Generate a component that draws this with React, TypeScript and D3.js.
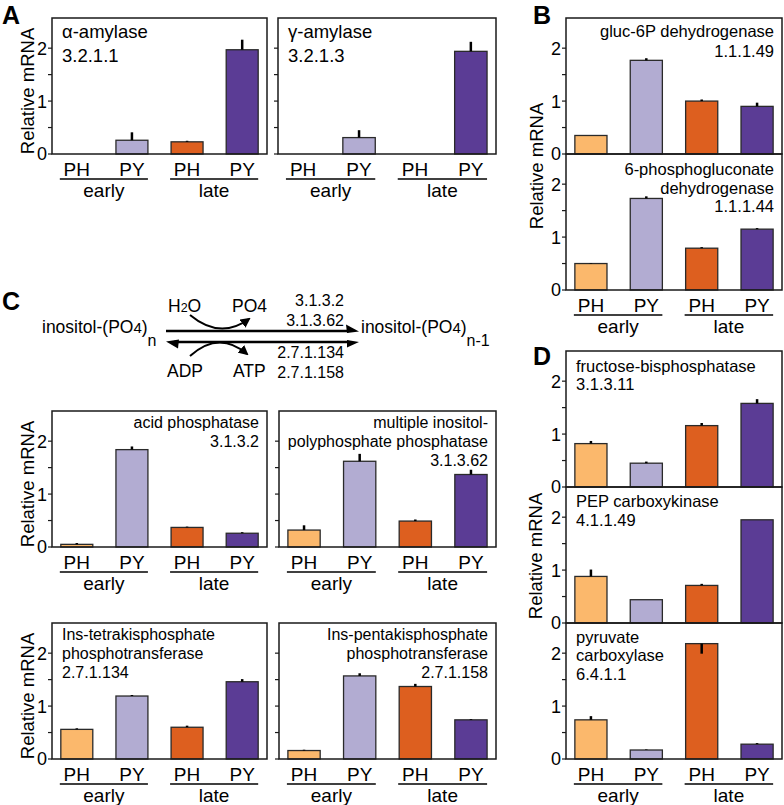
import React from 'react';
import * as d3 from 'd3';

// bar order in every plot: PH early, PY early, PH late, PY late
const conditions = ['PH', 'PY', 'PH', 'PY'];
const stages = ['early', 'late'];
const barColors = ['#fbb86c', '#b2acd2', '#dd5f1f', '#5b3c95'];

const yMax = 2.57;
const yTicks = [0, 0.5, 1, 1.5, 2];

// relative mRNA (0 = no bar drawn)
const alphaAmylase = [0, 0.26, 0.23, 1.97];
const alphaAmylaseErr = [0, 0.15, 0.02, 0.19];
const gammaAmylase = [0, 0.31, 0, 1.94];
const gammaAmylaseErr = [0, 0.14, 0, 0.18];

const g6pDehydrogenase = [0.35, 1.77, 1.0, 0.9];
const g6pDehydrogenaseErr = [0, 0.04, 0.03, 0.07];
const pgDehydrogenase = [0.5, 1.73, 0.79, 1.15];
const pgDehydrogenaseErr = [0.01, 0.04, 0.02, 0.02];

const acidPhosphatase = [0.05, 1.84, 0.37, 0.26];
const acidPhosphataseErr = [0.025, 0.06, 0.015, 0.02];
const minpp = [0.32, 1.62, 0.49, 1.37];
const minppErr = [0.09, 0.14, 0.03, 0.09];
const tetrakisPT = [0.56, 1.19, 0.6, 1.46];
const tetrakisPTErr = [0.02, 0.02, 0.03, 0.05];
const pentakisPT = [0.16, 1.57, 1.37, 0.74];
const pentakisPTErr = [0.015, 0.05, 0.05, 0.015];

const fbpase = [0.82, 0.45, 1.16, 1.58];
const fbpaseErr = [0.05, 0.03, 0.05, 0.08];
const pepck = [0.88, 0.44, 0.71, 1.95];
const pepckErr = [0.13, 0, 0.03, 0];
const pyruvateCarb = [0.74, 0.17, 2.18, 0.28];
const pyruvateCarbErr = [0.07, 0.01, -0.19, 0.02]; // negative: drawn downward

const FONT = '"Liberation Sans", Arial, Helvetica, sans-serif';
const PLOT_H = 136;

const band = (w: number) =>
  d3.scaleBand<number>().domain(d3.range(4)).range([0, w]).paddingInner(0.42).paddingOuter(0.16);
const yScale = d3.scaleLinear().domain([0, yMax]).range([PLOT_H, 0]);

type PlotProps = {
  x: number;
  y: number;
  w: number;
  values: number[];
  errors: number[];
  title: string[];
  anchor: 'start' | 'end';
  fontSize: number;
  lineH: number;
  firstLine: number;
  tickLabels?: boolean;
};

function BarPlot({ x, y, w, values, errors, title, anchor, fontSize, lineH, firstLine, tickLabels = true }: PlotProps) {
  const xs = band(w);
  const bw = xs.bandwidth();
  const tx = anchor === 'start' ? 10 : w - 8;
  return (
    <g transform={`translate(${x},${y})`}>
      {values.map((v, i) =>
        v > 0 ? (
          <g key={i}>
            <rect
              x={xs(i)}
              y={yScale(v)}
              width={bw}
              height={yScale(0) - yScale(v)}
              fill={barColors[i]}
              stroke="#2a2a2a"
              strokeWidth={1.3}
            />
            {errors[i] !== 0 && (
              <line
                x1={xs(i)! + bw / 2}
                x2={xs(i)! + bw / 2}
                y1={yScale(v)}
                y2={yScale(v + errors[i])}
                stroke="#000"
                strokeWidth={2.5}
              />
            )}
          </g>
        ) : null
      )}
      <rect x={0} y={0} width={w} height={PLOT_H} fill="none" stroke="#1a1a1a" strokeWidth={1.5} />
      {yTicks.map((t) => (
        <g key={t} transform={`translate(0,${yScale(t)})`}>
          <line x1={-4} x2={0} stroke="#1a1a1a" strokeWidth={1.2} />
          {tickLabels && Number.isInteger(t) && (
            <text x={-5} dy="0.36em" textAnchor="end" fontSize={18}>
              {t}
            </text>
          )}
        </g>
      ))}
      <text fontSize={fontSize} textAnchor={anchor}>
        {title.map((s, i) => (
          <tspan key={i} x={tx} y={firstLine + i * lineH}>
            {s}
          </tspan>
        ))}
      </text>
    </g>
  );
}

function GroupAxis({ x, w, bottom }: { x: number; w: number; bottom: number }) {
  const xs = band(w);
  const bw = xs.bandwidth();
  return (
    <g transform={`translate(${x},${bottom})`}>
      {conditions.map((c, i) => (
        <text key={i} x={xs(i)! + bw / 2} y={22} textAnchor="middle" fontSize={19}>
          {c}
        </text>
      ))}
      {stages.map((s, g) => {
        const x1 = xs(2 * g)! - 1;
        const x2 = xs(2 * g + 1)! + bw;
        return (
          <g key={s}>
            <line x1={x1} x2={x2} y1={25} y2={25} stroke="#000" strokeWidth={1.6} />
            <text x={(x1 + x2) / 2} y={43} textAnchor="middle" fontSize={19}>
              {s}
            </text>
          </g>
        );
      })}
    </g>
  );
}

function YLabel({ x, y }: { x: number; y: number }) {
  return (
    <text transform={`translate(${x},${y}) rotate(-90)`} textAnchor="middle" fontSize={18.5}>
      Relative mRNA
    </text>
  );
}

function PanelLetter({ x, y, t }: { x: number; y: number; t: string }) {
  return (
    <text x={x} y={y} fontSize={25} fontWeight="bold">
      {t}
    </text>
  );
}

function Reaction() {
  return (
    <g fontSize={17.5}>
      <defs>
        <marker
          id="head"
          viewBox="0 0 10 10"
          refX={8}
          refY={5}
          markerUnits="userSpaceOnUse"
          markerWidth={10}
          markerHeight={10}
          orient="auto"
        >
          <path d="M0,0 L10,5 L0,10 z" fill="#000" />
        </marker>
      </defs>
      <text x={42} y={333}>
        inositol-(PO<tspan fontSize={15}>4</tspan>)
        <tspan fontSize={16} dy={13}>n</tspan>
      </text>
      <text x={361} y={333}>
        inositol-(PO<tspan fontSize={15}>4</tspan>)
        <tspan fontSize={16} dy={13}>n-1</tspan>
      </text>
      {/* forward and reverse arrows */}
      <line x1={166} x2={349} y1={331} y2={331} stroke="#000" strokeWidth={2.6} />
      <path d="M359,331.5 L346,324.5 L347,333 Z" fill="#000" />
      <line x1={174} x2={349} y1={342} y2={342} stroke="#000" strokeWidth={2.6} />
      <path d="M166,341.5 L179,339.5 L178,348.5 Z" fill="#000" />
      <path d="M359,342 L347,340 L347,347.5 Z" fill="#000" />
      {/* side substrates */}
      <path d="M190,315 Q220,340 249,319" fill="none" stroke="#000" strokeWidth={2} markerEnd="url(#head)" />
      <path d="M190,356 Q219,330 247,354" fill="none" stroke="#000" strokeWidth={2} markerEnd="url(#head)" />
      <text x={168} y={312}>
        H<tspan fontSize={12.5}>2</tspan>O
      </text>
      <text x={232} y={312}>PO4</text>
      <text x={167} y={377}>ADP</text>
      <text x={233} y={377}>ATP</text>
      <g fontSize={16} textAnchor="end">
        <text x={344} y={306}>3.1.3.2</text>
        <text x={344} y={326}>3.1.3.62</text>
        <text x={344} y={358}>2.7.1.134</text>
        <text x={344} y={378}>2.7.1.158</text>
      </g>
    </g>
  );
}

export default function App() {
  return (
    <svg
      width={784}
      height={805}
      style={{ position: 'absolute', left: 0, top: 0, background: '#fff' }}
      fontFamily={FONT}
    >
      {/* A */}
      <PanelLetter x={2} y={24} t="A" />
      <BarPlot x={52} y={18} w={215} values={alphaAmylase} errors={alphaAmylaseErr}
        title={['α-amylase', '3.2.1.1']} anchor="start" fontSize={18.5} lineH={24} firstLine={20} />
      <GroupAxis x={52} w={215} bottom={154} />
      <BarPlot x={278} y={18} w={218} values={gammaAmylase} errors={gammaAmylaseErr}
        title={['γ-amylase', '3.2.1.3']} anchor="start" fontSize={18.5} lineH={24} firstLine={20} tickLabels={false} />
      <GroupAxis x={278} w={218} bottom={154} />
      <YLabel x={34} y={91} />

      {/* B */}
      <PanelLetter x={533} y={24} t="B" />
      <BarPlot x={566} y={18} w={216} values={g6pDehydrogenase} errors={g6pDehydrogenaseErr}
        title={['gluc-6P dehydrogenase', '1.1.1.49']} anchor="end" fontSize={16.5} lineH={19.5} firstLine={19} />
      <BarPlot x={566} y={154} w={216} values={pgDehydrogenase} errors={pgDehydrogenaseErr}
        title={['6-phosphogluconate', 'dehydrogenase', '1.1.1.44']} anchor="end" fontSize={16.5} lineH={18.5} firstLine={21} />
      <GroupAxis x={566} w={216} bottom={290} />
      <YLabel x={543} y={166} />

      {/* C */}
      <PanelLetter x={2} y={310} t="C" />
      <Reaction />
      <BarPlot x={52} y={411} w={215} values={acidPhosphatase} errors={acidPhosphataseErr}
        title={['acid phosphatase', '3.1.3.2']} anchor="end" fontSize={16} lineH={19} firstLine={16.5} />
      <GroupAxis x={52} w={215} bottom={547} />
      <BarPlot x={279} y={411} w={217} values={minpp} errors={minppErr}
        title={['multiple inositol-', 'polyphosphate phosphatase', '3.1.3.62']} anchor="end" fontSize={16} lineH={19} firstLine={16.5} tickLabels={false} />
      <GroupAxis x={279} w={217} bottom={547} />
      <YLabel x={34} y={484} />

      <BarPlot x={52} y={623} w={215} values={tetrakisPT} errors={tetrakisPTErr}
        title={['Ins-tetrakisphosphate', 'phosphotransferase', '2.7.1.134']} anchor="start" fontSize={16} lineH={19} firstLine={17} />
      <GroupAxis x={52} w={215} bottom={759} />
      <BarPlot x={279} y={623} w={217} values={pentakisPT} errors={pentakisPTErr}
        title={['Ins-pentakisphosphate', 'phosphotransferase', '2.7.1.158']} anchor="end" fontSize={16} lineH={19} firstLine={17} tickLabels={false} />
      <GroupAxis x={279} w={217} bottom={759} />
      <YLabel x={34} y={696} />

      {/* D */}
      <PanelLetter x={533} y={365} t="D" />
      <BarPlot x={566} y={351} w={216} values={fbpase} errors={fbpaseErr}
        title={['fructose-bisphosphatase', '3.1.3.11']} anchor="start" fontSize={16.5} lineH={18.5} firstLine={20.5} />
      <BarPlot x={566} y={487} w={216} values={pepck} errors={pepckErr}
        title={['PEP carboxykinase', '4.1.1.49']} anchor="start" fontSize={16.5} lineH={18.5} firstLine={20} />
      <BarPlot x={566} y={623} w={216} values={pyruvateCarb} errors={pyruvateCarbErr}
        title={['pyruvate', 'carboxylase', '6.4.1.1']} anchor="start" fontSize={16.5} lineH={18.5} firstLine={19.5} />
      <GroupAxis x={566} w={216} bottom={759} />
      <YLabel x={542} y={556} />
    </svg>
  );
}
